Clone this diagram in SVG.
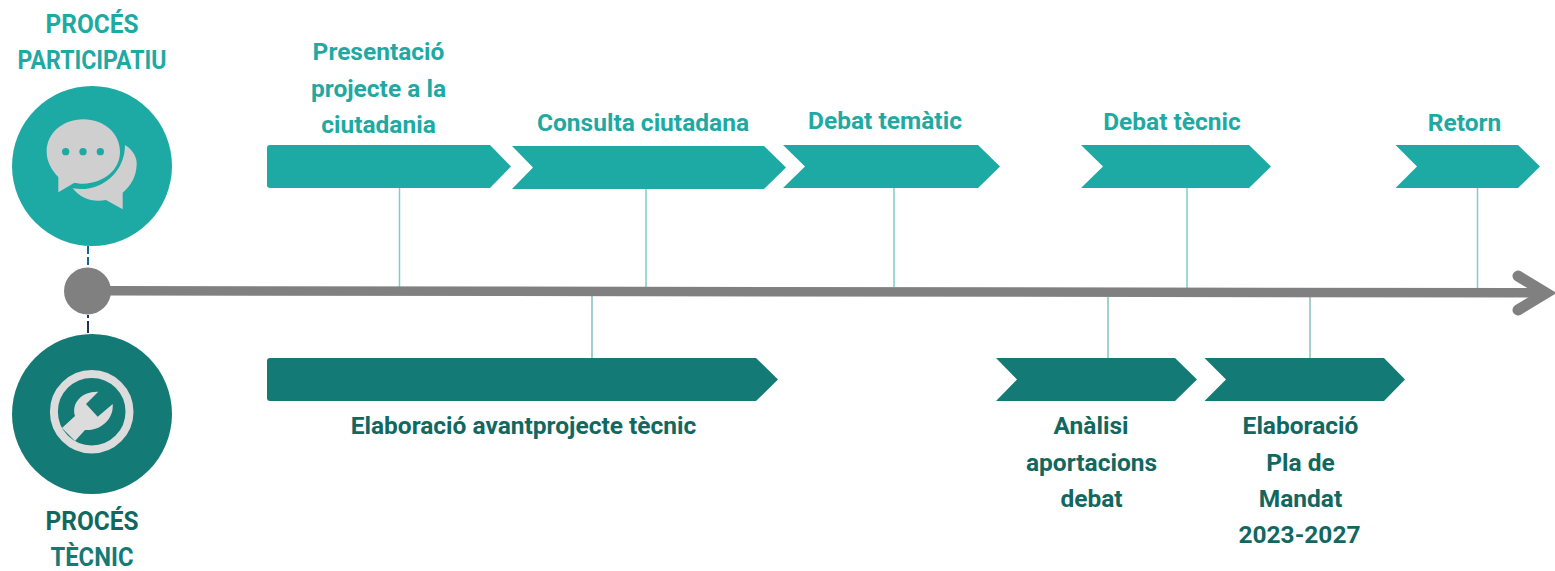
<svg xmlns="http://www.w3.org/2000/svg" width="1555" height="571" viewBox="0 0 1555 571">
<style>
text{font-family:Roboto,"Liberation Sans",sans-serif;font-weight:700;text-anchor:middle;font-size:24.5px}
.lt{fill:#1fa9a3}.dk{fill:#12675f}.dm{fill:#147a75}
.a{fill:#1eaaa4}.b{fill:#147a75}
.s{stroke:#7fcdc9;stroke-width:1.5;fill:none}.s2{stroke:#86c2c0;stroke-width:1.5;fill:none}
.h{font-size:25px}
</style>
<rect width="1555" height="571" fill="#fff"/>
<g id="connectors">
<path d="M88 246V267" stroke="#14659a" stroke-width="2" stroke-dasharray="8 3" fill="none"/>
<path d="M88 315V335" stroke="#1f3356" stroke-width="2" stroke-dasharray="3 3 12 3" fill="none"/>
<path class="s" d="M399.500 188V287M646 189V287M894 188V287M1187 188V288M1477.500 188V288"/>
<path class="s2" d="M592 296V358M1108 297V358M1310 297V358"/>
<path d="M108 290.800L1546 292.800" stroke="#808080" stroke-width="9.500" fill="none"/>
<path d="M1518 276L1546 293L1518 310" stroke="#808080" stroke-width="11" stroke-linecap="round" stroke-linejoin="miter" fill="none"/>
</g>
<g id="origin"><circle cx="87.500" cy="291" r="23.500" fill="#808080"/></g>
<g id="proces-participatiu">
<text class="lt h" x="92" y="33" textLength="93" lengthAdjust="spacingAndGlyphs">PROCÉS</text>
<text class="lt h" x="92" y="69" textLength="149" lengthAdjust="spacingAndGlyphs">PARTICIPATIU</text>
<circle class="a" cx="92" cy="166" r="80"/>
<g transform="scale(.33333)" fill="#cfcfcf">
<path d="M375 435C400 450 412 475 410 495C408 530 395 555 368 578V628L318 600C280 608 240 595 218 565C300 580 375 520 375 435Z"/>
<path d="M250 358C312 358 360 400 360 455C360 510 312 548 250 551C240 551 230 551 222 549L175 577V531C155 510 140 485 140 455C140 400 188 358 250 358Z"/>
<g class="a"><circle cx="197" cy="455" r="11"/><circle cx="249" cy="455" r="11"/><circle cx="301" cy="455" r="11"/></g>
</g>
</g>
<g id="proces-tecnic">
<circle class="b" cx="92" cy="414" r="80"/>
<circle cx="91.700" cy="411.700" r="37.800" fill="none" stroke="#dcdcdc" stroke-width="8"/>
<path fill="#dcdcdc" d="M98.300 391.700L86 404L97.700 416.700L112.700 404C114 418 102 431 85 430L75 441L62 428L75 416C71 403 82 391 98.300 391.700Z"/>
<text class="dk h" x="92" y="530" textLength="93" lengthAdjust="spacingAndGlyphs">PROCÉS</text>
<text class="dm h" x="92" y="566" textLength="83" lengthAdjust="spacingAndGlyphs">TÈCNIC</text>
</g>
<g id="presentacio">
<path class="a" d="M270 145H490L511 166.500L490 188H270Q267 188 267 185V148Q267 145 270 145Z"/>
<text class="lt" x="378.500" y="60">Presentació</text>
<text class="lt" x="378.500" y="97">projecte a la</text>
<text class="lt" x="378.500" y="133">ciutadania</text>
</g>
<g id="consulta">
<path class="a" d="M512 146H764L786 167.500L764 189H512L533 167.500Z"/>
<text class="lt" x="643" y="131">Consulta ciutadana</text>
</g>
<g id="debat-tematic">
<path class="a" d="M783 145H978L1000 166.500L978 188H783L805 166.500Z"/>
<text class="lt" x="885" y="129">Debat temàtic</text>
</g>
<g id="debat-tecnic">
<path class="a" d="M1081 145H1249L1271 166.500L1249 188H1081L1103 166.500Z"/>
<text class="lt" x="1172" y="130">Debat tècnic</text>
</g>
<g id="retorn">
<path class="a" d="M1395.500 145H1518L1540 166.500L1518 188H1395.500L1417 166.500Z"/>
<text class="lt" x="1464.500" y="131">Retorn</text>
</g>
<g id="avantprojecte">
<path class="b" d="M270 358H756L778 379.500L756 401H270Q267 401 267 398V361Q267 358 270 358Z"/>
<text class="dk" x="523.500" y="434">Elaboració avantprojecte tècnic</text>
</g>
<g id="analisi">
<path class="b" d="M996 358H1175L1197 379.500L1175 401H996L1017 379.500Z"/>
<text class="dk" x="1091" y="434">Anàlisi</text>
<text class="dk" x="1091.500" y="471">aportacions</text>
<text class="dk" x="1091.500" y="507">debat</text>
</g>
<g id="pla-mandat">
<path class="b" d="M1204.500 358H1384L1405 379.500L1384 401H1204.500L1226 379.500Z"/>
<text class="dk" x="1300.500" y="434">Elaboració</text>
<text class="dk" x="1300.500" y="471">Pla de</text>
<text class="dk" x="1300.500" y="507">Mandat</text>
<text class="dk" x="1299.500" y="543">2023-2027</text>
</g>
</svg>
